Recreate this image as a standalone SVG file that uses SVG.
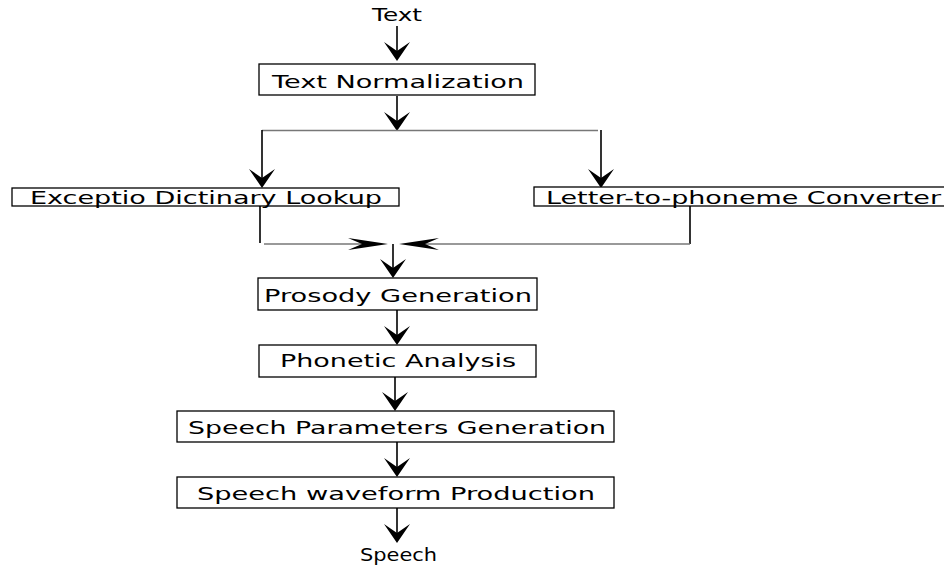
<svg xmlns="http://www.w3.org/2000/svg" width="944" height="567" viewBox="0 0 944 567">
<style>
.box{fill:#fff;stroke:#000;stroke-width:1.3}
.t{font-family:"DejaVu Sans",sans-serif;font-size:17px;fill:#000;text-anchor:start}
.v{stroke:#000;stroke-width:1.6;fill:none}
.h{stroke:#777;stroke-width:1.6;fill:none}
.ah{fill:#000}
</style>
<defs>
<path id="down" d="M0,0 L-13,-19 L0,-10 L13,-19 Z"/>
</defs>
<g id="connectors">
<line class="v" x1="397" y1="26" x2="397" y2="56"/>
<use href="#down" class="ah" x="397" y="61"/>
<line class="v" x1="397" y1="96" x2="397" y2="126"/>
<use href="#down" class="ah" x="397" y="131"/>
<line class="h" x1="262" y1="130.5" x2="598" y2="130.5"/>
<line class="v" x1="262" y1="130" x2="262" y2="182"/>
<use href="#down" class="ah" x="262" y="188"/>
<line class="v" x1="601" y1="130" x2="601" y2="182"/>
<use href="#down" class="ah" x="601" y="188"/>
<line class="v" x1="260" y1="206" x2="260" y2="243"/>
<line class="h" x1="264" y1="244" x2="380" y2="244"/>
<path class="ah" d="M388,244 L348,238 L362,244 L348,250 Z"/>
<line class="v" x1="690" y1="206" x2="690" y2="244"/>
<line class="h" x1="690" y1="244" x2="410" y2="244"/>
<path class="ah" d="M399,244 L439,238 L425,244 L439,250 Z"/>
<line class="v" x1="393" y1="244" x2="393" y2="272"/>
<use href="#down" class="ah" x="393" y="278"/>
<line class="v" x1="397" y1="310" x2="397" y2="340"/>
<use href="#down" class="ah" x="397" y="345"/>
<line class="v" x1="395" y1="377" x2="395" y2="405"/>
<use href="#down" class="ah" x="395" y="411"/>
<line class="v" x1="397" y1="442" x2="397" y2="471"/>
<use href="#down" class="ah" x="397" y="477"/>
<line class="v" x1="397" y1="508" x2="397" y2="537"/>
<use href="#down" class="ah" x="397" y="543"/>
</g>
<g id="n-text"><text class="t" x="372" y="21" font-size="15" textLength="50" lengthAdjust="spacingAndGlyphs">Text</text></g>
<g id="n-norm"><rect class="box" x="259" y="64" width="276" height="31"/><text class="t" x="272" y="88" textLength="252" lengthAdjust="spacingAndGlyphs">Text Normalization</text></g>
<g id="n-exc"><rect class="box" x="12" y="188" width="387" height="18"/><text class="t" x="30" y="204" textLength="352" lengthAdjust="spacingAndGlyphs">Exceptio Dictinary Lookup</text></g>
<g id="n-ltp"><rect class="box" x="534" y="187" width="420" height="19"/><text class="t" x="546" y="204" textLength="395" lengthAdjust="spacingAndGlyphs">Letter-to-phoneme Converter</text></g>
<g id="n-pros"><rect class="box" x="258" y="278" width="279" height="32"/><text class="t" x="264" y="302" textLength="268" lengthAdjust="spacingAndGlyphs">Prosody Generation</text></g>
<g id="n-phon"><rect class="box" x="259" y="345" width="277" height="32"/><text class="t" x="280" y="367" textLength="236" lengthAdjust="spacingAndGlyphs">Phonetic Analysis</text></g>
<g id="n-spg"><rect class="box" x="177" y="411" width="437" height="31"/><text class="t" x="188" y="434" textLength="418" lengthAdjust="spacingAndGlyphs">Speech Parameters Generation</text></g>
<g id="n-swp"><rect class="box" x="177" y="477" width="437" height="31"/><text class="t" x="197" y="500" textLength="398" lengthAdjust="spacingAndGlyphs">Speech waveform Production</text></g>
<g id="n-speech"><text class="t" x="360" y="561" font-size="15" textLength="77" lengthAdjust="spacingAndGlyphs">Speech</text></g>
</svg>
